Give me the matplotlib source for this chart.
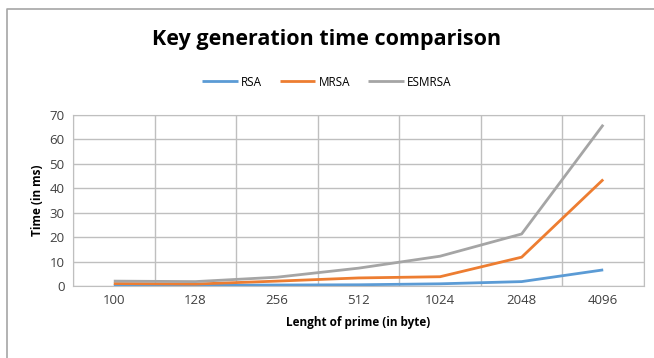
import numpy as np
import matplotlib
matplotlib.use("Agg")
import matplotlib.pyplot as plt
from matplotlib.lines import Line2D

categories = ["100", "128", "256", "512", "1024", "2048", "4096"]
rsa = [0.3, 0.3, 0.4, 0.5, 0.9, 1.8, 6.6]
mrsa = [1.0, 0.8, 2.0, 3.3, 3.8, 11.8, 43.6]
esmrsa = [2.0, 1.8, 3.6, 7.3, 12.2, 21.3, 66.0]

COLORS = {"RSA": "#5B9BD5", "MRSA": "#ED7D31", "ESMRSA": "#A5A5A5"}
plt.rcParams["font.family"] = ["Open Sans", "DejaVu Sans"]

fig = plt.figure(figsize=(6.54, 3.58), dpi=100)
ax = fig.add_axes([73 / 654, 1 - 286 / 358, (644 - 73) / 654, (286 - 115) / 358])
x = np.arange(len(categories))
for name, vals in [("RSA", rsa), ("MRSA", mrsa), ("ESMRSA", esmrsa)]:
    ax.plot(x, vals, color=COLORS[name], lw=2, label=name, solid_capstyle="butt")

ax.set_xlim(-0.5, len(categories) - 0.5)
ax.set_ylim(0, 70)
ax.set_yticks(range(0, 71, 10))
ax.set_xticks(x)
ax.set_xticklabels(categories)
ax.set_xticks(np.arange(-0.5, len(categories), 1), minor=True)
ax.tick_params(which="both", length=0, labelsize=9.5, colors="#404040", pad=6)
ax.grid(True, which="minor", axis="x", color="#BFBFBF", lw=1)
ax.grid(True, which="major", axis="y", color="#BFBFBF", lw=1)
for s in ax.spines.values():
    s.set_color("#BFBFBF")
ax.set_axisbelow(True)
ax.set_xlabel("Lenght of prime (in byte)", fontsize=8.5, fontweight="bold", labelpad=6)
ax.set_ylabel("Time (in ms)", fontsize=8.5, fontweight="bold", labelpad=4)

fig.text(0.5, 1 - 40 / 358, "Key generation time comparison", ha="center", va="center",
         fontsize=15.5, fontweight="bold")
ax.legend(loc="center", bbox_to_anchor=(0.5, 1 - 82 / 358), bbox_transform=fig.transFigure,
          ncol=3, frameon=False, fontsize=8.5, handlelength=3, columnspacing=1.5,
          handletextpad=0.3)

# chart border: only the top and left edges are visible in the source image
fig.add_artist(Line2D([6.5 / 654, 6.5 / 654, 1], [0, 1 - 8.5 / 358, 1 - 8.5 / 358],
                      transform=fig.transFigure, color="#A6A6A6", lw=1.2))
fig.savefig("out.png", dpi=100)
print("done")
